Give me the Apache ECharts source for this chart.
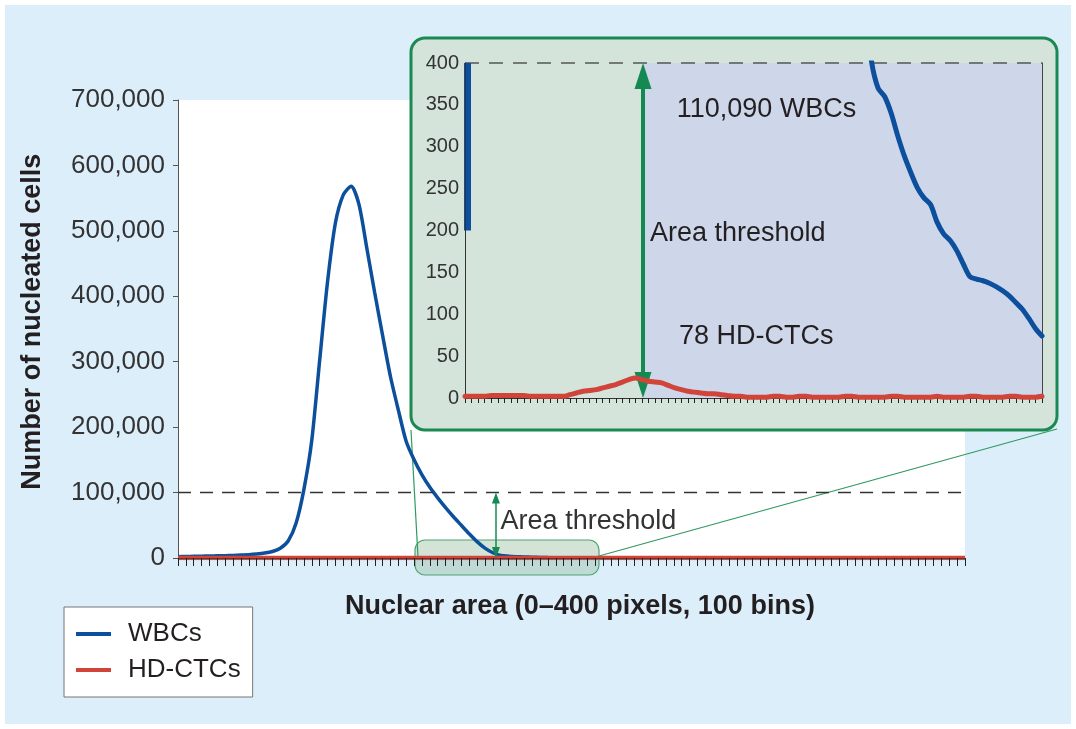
<!DOCTYPE html>
<html><head><meta charset="utf-8">
<script src="https://cdn.jsdelivr.net/npm/echarts@6/dist/echarts.min.js"></script>
<style>html,body{margin:0;padding:0;background:#fff}#c{width:1076px;height:729px}</style>
</head><body><div id="c"></div>
<script>
// ---- data ----
// Main histogram: nuclear-area bins 0..100
const wbcMain = [2000,2200,2500,2800,3000,3300,3600,4000,4500,5000,6000,7500,10000,15000,26000,53000,105000,180000,302000,422000,512000,555000,568000,540000,473000,405000,340000,277000,226000,178000,150000,127000,108000,92000,77000,63000,50000,37000,25000,15000,8000,4000,2800,2100,1700,1300,900,600,400];
const hdctcMain = [0,0,0,0,0,0,0,0,0,0,0,0,0,0,0,0,0,0,0,0,0,0,0,0,0,0,0,0,0,0,0,0,0,0,0,0,0,0,0,0,0,0,0,0,0,0,0,0,0,0,0,0,0,0,0,0,0,0,0,0,0,0,0,0,0,0,0,0,0,0,0,0,0,0,0,0,0,0,0,0,0,0,0,0,0,0,0,0,0,0,0,0,0,0,0,0,0,0,0,0,0];
const mainYTicks = [0,100000,200000,300000,400000,500000,600000,700000];
const mainThreshold = 100000;
const mainThresholdBin = 40.4;

// Inset (zoomed region, 88 bins, counts 0..400)
const hdctcInset = [2,2,2,2,3,3,3,3,3,3,2,2,2,2,2,2,4,6,8,9,10,12,14,16,19,22,24,22,20,19,18,15,12,10,8,7,6,5,5,4,3,2,2,1,1,1,1,2,2,1,1,2,2,1,1,1,1,1,2,2,1,1,1,1,1,2,2,1,1,1,1,1,2,1,1,1,1,2,2,1,1,1,1,2,2,1,1,1,2];
const wbcInsetFrom = 61;
const wbcInset = [470,402,370,360,340,313,289,269,251,239,231,210,196,188,176,160,145,142,140,137,133,128,122,114,106,95,83,74];
const insetThresholdBin = 27.15;
const insetTop = 400;
const insetLabels = {wbc:'110,090 WBCs', thr:'Area threshold', ctc:'78 HD-CTCs'};

const F = "'Liberation Sans', Arial, Helvetica, sans-serif";
const BLUE = '#0c4f9c', RED = '#d0443a', GREEN = '#148a52', TXT = '#231f20';

const chart = echarts.init(document.getElementById('c'), null, {renderer:'canvas'});

// arrow end offsets so that triangle tips touch the ends (half symbol height in data units)
const mainHalfHead = 5.5 * 700000 / 458;
const insetHalfHead = 13 * 400 / 335;

const option = {
  animation: false,
  backgroundColor: '#ffffff',
  textStyle: {fontFamily: F},
  legend: {
    left: 64, top: 607, orient: 'vertical', icon: 'rect',
    itemWidth: 35, itemHeight: 4, itemGap: 10,
    padding: [14, 12, 14, 12],
    backgroundColor: '#fff', borderColor: '#777', borderWidth: 1,
    textStyle: {fontSize: 26, color: TXT, fontFamily: F, padding: [0,0,0,12]},
    data: ['WBCs', 'HD-CTCs']
  },
  grid: [
    {left: 178, right: 111, top: 100, bottom: 171, show: true, backgroundColor: '#fff', borderWidth: 0, z: 0},
    {left: 465, right: 34, top: 63, bottom: 331, z: 6}
  ],
  xAxis: [
    {gridIndex: 0, type: 'value', min: 0, max: 100, interval: 1, z: 4,
     axisLine: {lineStyle: {color: '#444', width: 1}},
     axisTick: {show: true, length: 8, lineStyle: {color: '#222', width: 1}},
     axisLabel: {show: false}, splitLine: {show: false}},
    {gridIndex: 1, type: 'value', min: 0, max: 88, interval: 1, z: 7,
     axisLine: {lineStyle: {color: '#333', width: 1}},
     axisTick: {show: true, length: 5, lineStyle: {color: '#222', width: 1}},
     axisLabel: {show: false}, splitLine: {show: false}}
  ],
  yAxis: [
    {gridIndex: 0, type: 'value', min: mainYTicks[0], max: mainYTicks[mainYTicks.length-1], interval: 100000,
     axisLine: {show: true, lineStyle: {color: '#555', width: 1}},
     axisTick: {show: true, length: 5, lineStyle: {color: '#555'}},
     axisLabel: {margin: 13, fontSize: 26, color: '#333', fontFamily: F,
                 formatter: v => v.toLocaleString('en-US')},
     splitLine: {show: false}},
    {gridIndex: 1, type: 'value', min: 0, max: insetTop, interval: 50, z: 7,
     axisLine: {show: true, lineStyle: {color: '#333', width: 1}},
     axisTick: {show: false},
     axisLabel: {margin: 6, fontSize: 20, color: '#333', fontFamily: F},
     splitLine: {show: false}},
    {gridIndex: 1, type: 'value', min: 0, max: insetTop, position: 'right', z: 7,
     axisLine: {show: true, lineStyle: {color: '#444', width: 1}},
     axisTick: {show: false}, axisLabel: {show: false}, splitLine: {show: false}}
  ],
  series: [
    {name: 'WBCs', type: 'line', xAxisIndex: 0, yAxisIndex: 0, z: 2,
     data: wbcMain.map((v, i) => [i, v]), showSymbol: false, symbol: 'none', smooth: 0.25,
     color: BLUE, lineStyle: {color: BLUE, width: 3.5},
     markLine: {silent: true, symbol: ['none', 'none'], label: {show: false},
       data: [
         {yAxis: mainThreshold, lineStyle: {color: '#333', width: 1.3, type: [13, 9]}},
         [{coord: [mainThresholdBin, mainHalfHead], symbol: 'triangle', symbolSize: [8, 11]},
          {coord: [mainThresholdBin, mainThreshold - mainHalfHead], symbol: 'triangle', symbolSize: [8, 11],
           lineStyle: {color: GREEN, width: 1.5, type: 'solid'}}]
       ]}},
    {name: 'HD-CTCs', type: 'line', xAxisIndex: 0, yAxisIndex: 0, z: 3,
     data: hdctcMain.map((v, i) => [i, v]), showSymbol: false, symbol: 'none',
     color: RED, lineStyle: {color: RED, width: 4.5}},
    // inset shaded region (above threshold) carried by an invisible helper series
    {name: 'inset-area', type: 'line', xAxisIndex: 1, yAxisIndex: 1, z: 5,
     data: hdctcInset.map((v, i) => [i, v]), silent: true, showSymbol: false, symbol: 'none',
     lineStyle: {opacity: 0, width: 0}, tooltip: {show: false},
     markArea: {silent: true, z: 4, itemStyle: {color: '#ced6ea', opacity: 1},
       data: [[{coord: [insetThresholdBin, 0]}, {coord: [88, insetTop]}]]}},
    {name: 'HD-CTCs', type: 'line', xAxisIndex: 1, yAxisIndex: 1, z: 8,
     data: hdctcInset.map((v, i) => [i, v]), showSymbol: false, symbol: 'none', smooth: 0.3,
     color: RED, lineStyle: {color: RED, width: 5, cap: 'round'}},
    {name: 'WBCs', type: 'line', xAxisIndex: 1, yAxisIndex: 1, z: 8,
     data: wbcInset.map((v, i) => [wbcInsetFrom + i, v]), showSymbol: false, symbol: 'none', smooth: 0.3,
     color: BLUE, lineStyle: {color: BLUE, width: 5, cap: 'round'},
     markLine: {silent: true, symbol: ['none', 'none'], label: {show: false}, z: 6,
       data: [
         {yAxis: insetTop, lineStyle: {color: '#555', width: 1.5, type: [14, 10]}},
         [{coord: [0.35, 200]}, {coord: [0.35, insetTop], lineStyle: {color: BLUE, width: 7, type: 'solid'}}],
         [{coord: [insetThresholdBin, insetHalfHead], symbol: 'triangle', symbolSize: [17, 26]},
          {coord: [insetThresholdBin, insetTop - insetHalfHead], symbol: 'triangle', symbolSize: [17, 26],
           lineStyle: {color: GREEN, width: 4, type: 'solid'}}]
       ]}}
  ],
  graphic: [
    {type: 'rect', z: -10, silent: true, shape: {x: 5, y: 5, width: 1066, height: 719}, style: {fill: '#ddeefb'}},
    {type: 'text', z: 1, x: 32.5, y: 321.7, rotation: Math.PI / 2, silent: true,
     style: {text: 'Number of nucleated cells', font: 'bold 27px ' + F, fill: TXT, align: 'center', verticalAlign: 'middle'}},
    {type: 'text', z: 1, x: 580, y: 607, silent: true,
     style: {text: 'Nuclear area (0\u2013400 pixels, 100 bins)', font: 'bold 27px ' + F, fill: TXT, align: 'center', verticalAlign: 'middle'}},
    {type: 'rect', z: 1, silent: true, shape: {x: 415, y: 540, width: 184, height: 35, r: 10},
     style: {fill: 'rgba(150,190,160,0.42)', stroke: '#4ea473', lineWidth: 1.2}},
    {type: 'line', z: 1, silent: true, shape: {x1: 411, y1: 430, x2: 418, y2: 557}, style: {stroke: '#2f9a60', lineWidth: 1.2}},
    {type: 'line', z: 1, silent: true, shape: {x1: 599, y1: 556, x2: 1057, y2: 429}, style: {stroke: '#2f9a60', lineWidth: 1.2}},
    {type: 'text', z: 3, x: 500.6, y: 521.7, silent: true,
     style: {text: insetLabels.thr, font: '27px ' + F, fill: '#333', align: 'left', verticalAlign: 'middle'}},
    {type: 'rect', z: 3, silent: true, shape: {x: 411, y: 38, width: 646, height: 392, r: 14},
     style: {fill: '#d5e4da', stroke: '#1b8a52', lineWidth: 3}},
    {type: 'text', z: 20, x: 676.7, y: 110, silent: true,
     style: {text: insetLabels.wbc, font: '27px ' + F, fill: TXT, align: 'left', verticalAlign: 'middle'}},
    {type: 'text', z: 20, x: 650, y: 233.5, silent: true,
     style: {text: insetLabels.thr, font: '27px ' + F, fill: TXT, align: 'left', verticalAlign: 'middle'}},
    {type: 'text', z: 20, x: 679, y: 336.7, silent: true,
     style: {text: insetLabels.ctc, font: '27px ' + F, fill: TXT, align: 'left', verticalAlign: 'middle'}}
  ]
};
chart.setOption(option);
</script></body></html>
